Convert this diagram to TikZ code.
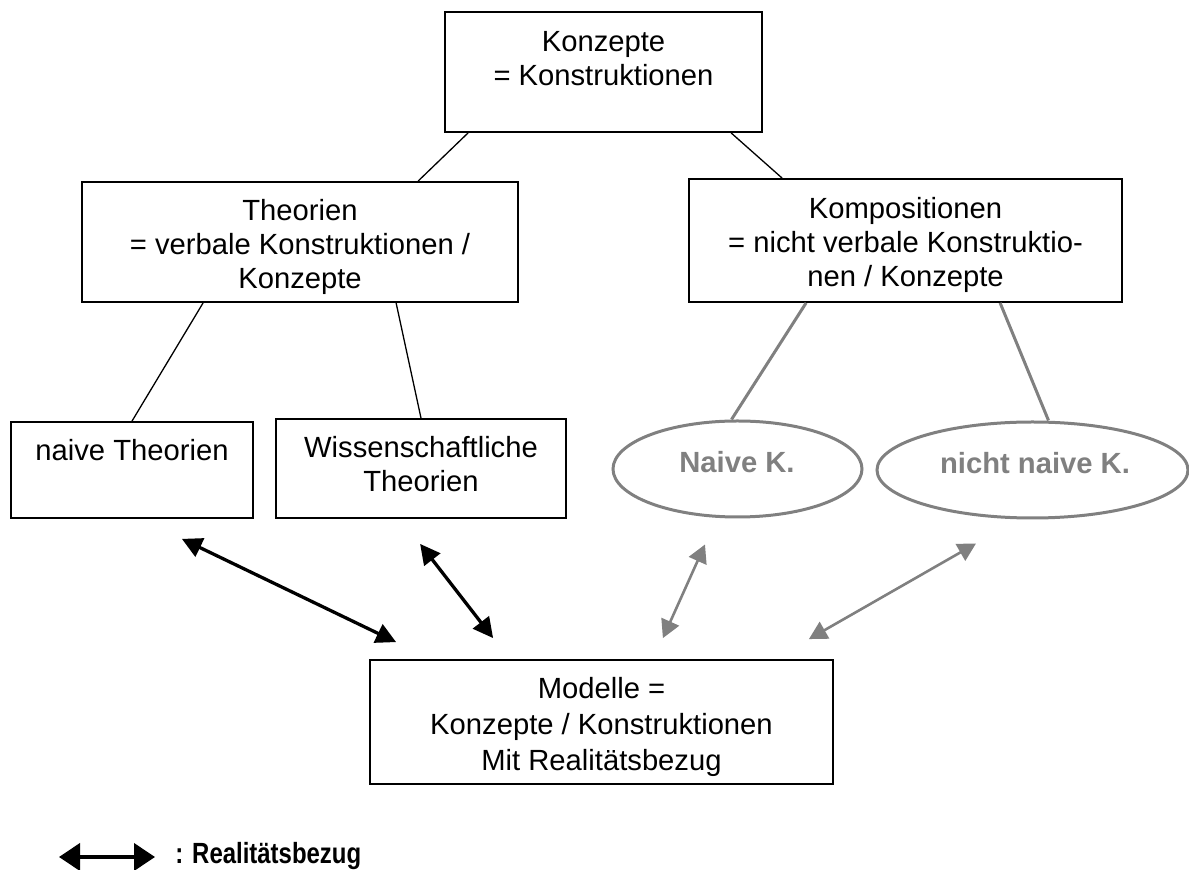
\documentclass[tikz,border=0pt]{standalone}
\usepackage{fontspec}
\setmainfont{Liberation Sans}
\usetikzlibrary{arrows.meta,calc,shapes.geometric}
\definecolor{grayk}{HTML}{808080}
\begin{document}
\begin{tikzpicture}[x=0.5pt,y=-0.5pt,
  every node/.style={font=\fontsize{14.6pt}{17pt}\selectfont, inner sep=0pt},
  box/.style={draw, line width=0.9pt, rectangle, inner sep=0pt},
  oval/.style={draw=grayk, line width=1.5pt, ellipse, inner sep=0pt},
  txt/.style={align=center},
  gtxt/.style={align=center, text=grayk, font=\fontsize{14.6pt}{17pt}\selectfont\bfseries},
  tree/.style={line width=0.65pt},
  gtree/.style={draw=grayk, line width=1.5pt},
  rel/.style={line width=1.65pt, {Triangle[length=10pt,width=10pt]}-{Triangle[length=10pt,width=10pt]}},
  grel/.style={draw=grayk, line width=1.3pt, {Triangle[length=9pt,width=9.5pt]}-{Triangle[length=9pt,width=9.5pt]}},
  legrel/.style={line width=2pt, {Triangle[length=10.5pt,width=13.5pt]}-{Triangle[length=10.5pt,width=13.5pt]}},
]
\useasboundingbox (0,0) rectangle (1189,870);

% boxes
\node[box, minimum width=158.5pt, minimum height=60pt] (top) at (603.5,72) {};
\node[box, minimum width=218pt, minimum height=60pt] (theo) at (300,242) {};
\node[box, minimum width=216.5pt, minimum height=61.5pt] (komp) at (905.5,240.5) {};
\node[box, minimum width=121pt, minimum height=48pt] (naive) at (132,470) {};
\node[box, minimum width=145pt, minimum height=49.5pt] (wiss) at (421,468.5) {};
\node[oval, minimum width=124.5pt, minimum height=48pt] (nk) at (737.5,469) {};
\node[oval, minimum width=155.5pt, minimum height=48pt] (nn) at (1032.5,470) {};
\node[box, minimum width=231.5pt, minimum height=62pt] (mod) at (601.5,722) {};

% texts
\node[txt] (topt) at (603.5,59) {Konzepte\\= Konstruktionen};
\node[txt] (theot) at (300,247) {Theorien\\= verbale Konstruktionen /\\Konzepte};
\node[txt] (kompt) at (905.5,244.5) {Kompositionen\\= nicht verbale Konstruktio-\\nen / Konzepte};
\node[txt] (naivet) at (132,450) {naive Theorien};
\node[txt] (wisst) at (421,464.5) {Wissenschaftliche\\Theorien};
\node[gtxt] (nkt) at (737,462) {Naive K.};
\node[gtxt] (nnt) at (1035,463) {nicht naive K.};
\node[txt, font=\fontsize{14.6pt}{18pt}\selectfont] (modt) at (601.5,726.5) {Modelle =\\Konzepte / Konstruktionen\\Mit Realitätsbezug};

% tree lines
\draw[tree] ($(top.south west)+(24,0)$) -- ($(theo.north west)+(337,0)$);
\draw[tree] ($(top.south west)+(287,0)$) -- ($(komp.north west)+(94,0)$);
\draw[tree] ($(theo.south west)+(122,0)$) -- (naive.north);
\draw[tree] ($(theo.south west)+(315,0)$) -- (wiss.north);
\draw[gtree] ($(komp.south west)+(118,0)$) -- ($(nk.north)+(-6,0)$);
\draw[gtree] ($(komp.south west)+(312,0)$) -- ($(nn.north)+(16,0)$);

% Realitaetsbezug arrows
\draw[rel] ($(naive.south east)+(-72,20)$) -- ($(mod.north west)+(27,-17)$);
\draw[rel] ($(wiss.south west)+(145,25)$) -- ($(mod.north west)+(124,-21)$);
\draw[grel] ($(nk.south)+(-32.5,26)$) -- ($(mod.north east)+(-171,-21)$);
\draw[grel] ($(nn.south)+(-56.5,24)$) -- ($(mod.north east)+(-25,-20)$);

% legend
\coordinate (l1) at (59,857);
\coordinate (l2) at (155,857);
\draw[legrel] (l1) -- (l2);
\node[anchor=base west, font=\fontsize{14.6pt}{17pt}\selectfont\bfseries] (legt) at (175,863.5) {\scalebox{0.82}[1]{: Realitätsbezug}};
\end{tikzpicture}
\end{document}
